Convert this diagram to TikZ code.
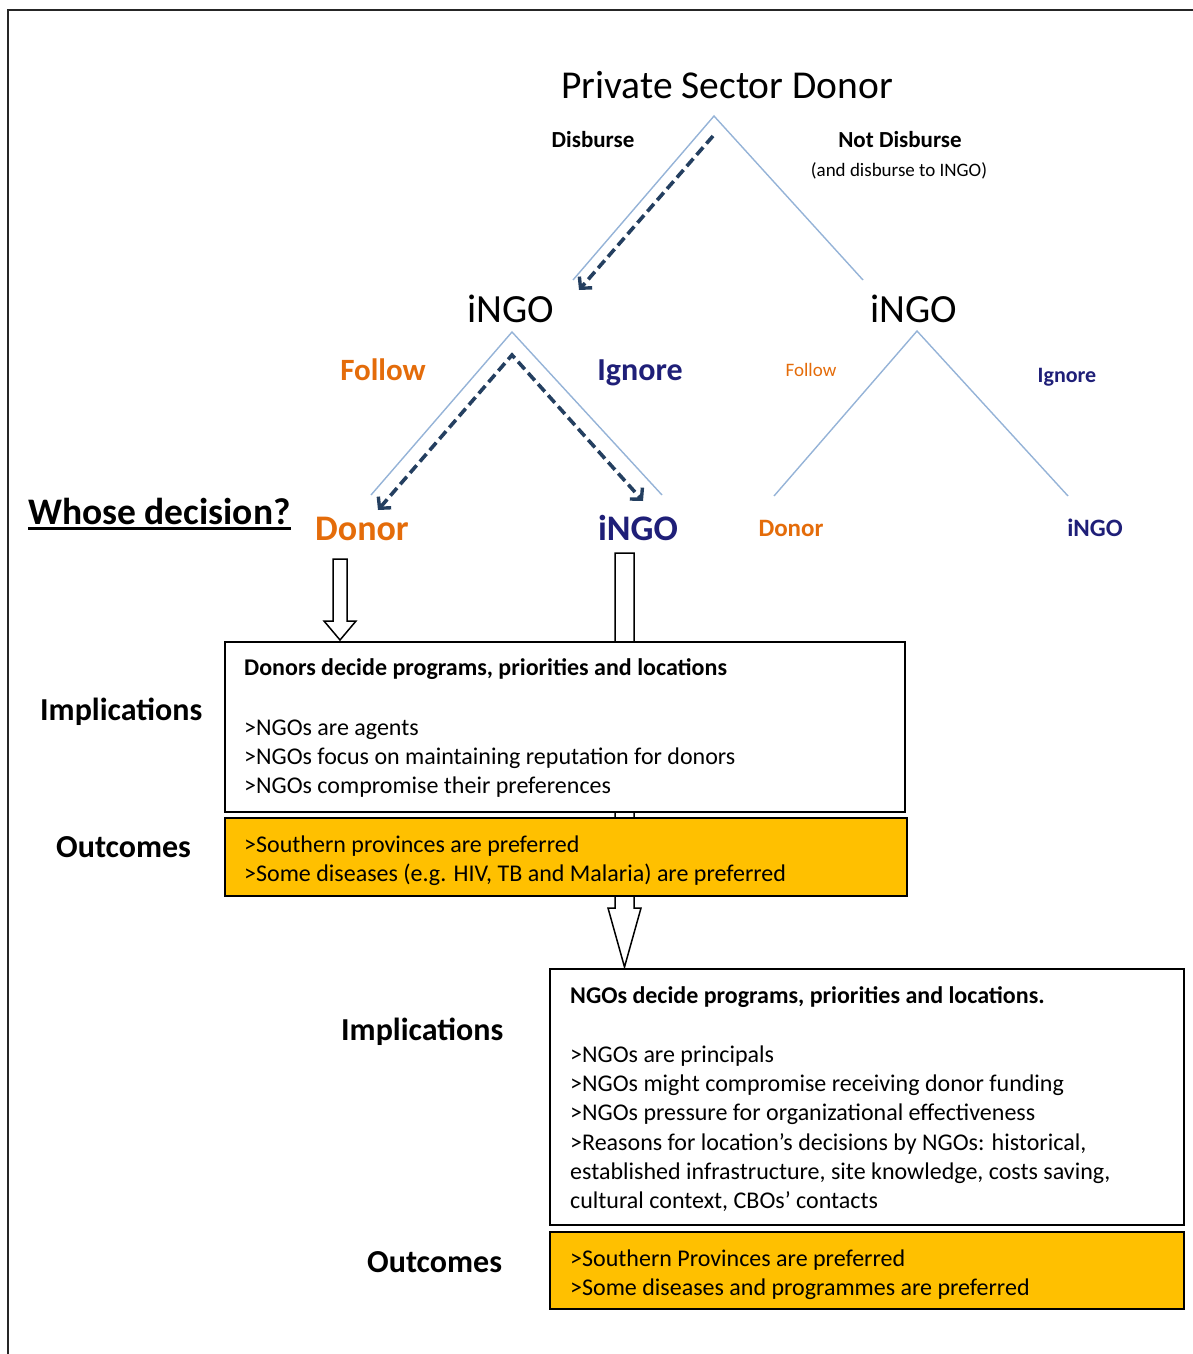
\documentclass[tikz,border=0pt]{standalone}
\usepackage{fontspec}
\setmainfont{Carlito}
\usetikzlibrary{arrows.meta}
\definecolor{branchblue}{HTML}{95B3D7}
\definecolor{routenavy}{HTML}{243F60}
\definecolor{followorange}{HTML}{E46C0A}
\definecolor{ignorenavy}{HTML}{1F1F78}
\definecolor{gold}{HTML}{FFC000}
\newcommand\fsz[1]{\fontsize{#1}{#1}\selectfont}
\begin{document}
\begin{tikzpicture}[x=1pt,y=-1pt,
  branch/.style={draw=branchblue, line width=1.4pt},
  route/.style={draw=routenavy, line width=3.6pt, dash pattern=on 10pt off 5pt,
    line cap=butt},
  barb/.tip={Straight Barb[length=8pt,width=17pt,line width=3.4pt]},
  lbl/.style={anchor=base, inner sep=0pt},
  txt/.style={anchor=base west, inner sep=0pt, font=\fsz{24}},
  side/.style={anchor=base west, inner sep=0pt, font=\fsz{32}\bfseries},
  whitebox/.style={draw=black, line width=1.6pt, fill=white, anchor=north west,
    inner sep=0pt},
  goldbox/.style={whitebox, fill=gold},
  blockarrow/.style={draw=black, line width=1.5pt, fill=white, line join=miter}]
\useasboundingbox (0,0) rectangle (1193,1354);
% page frame
\draw[line width=2.2pt, draw=black!85] (8,1400) -- (8,10) -- (1250,10);

% decision tree labels
\node[lbl, font=\fsz{39.5}] (psd) at (727,99) {Private Sector Donor};
\node[lbl, font=\fsz{23}\bfseries] (disb) at (593,147) {Disburse};
\node[lbl, font=\fsz{23}\bfseries] (ndisb) at (900,147) {Not Disburse};
\node[lbl, font=\fsz{19}] (ndisbnote) at (899,176) {(and disburse to INGO)};
\node[lbl, font=\fsz{40}] (ingoL) at (511,322) {iNGO};
\node[lbl, font=\fsz{40}] (ingoR) at (914,322) {iNGO};
\node[lbl, font=\fsz{31}\bfseries, text=followorange] (followL) at (383,380) {Follow};
\node[lbl, font=\fsz{32}\bfseries, text=ignorenavy] (ignoreL) at (640,380) {Ignore};
\node[lbl, font=\fsz{19}, text=followorange] (followR) at (811,376) {Follow};
\node[lbl, font=\fsz{22}\bfseries, text=ignorenavy] (ignoreR) at (1067,382) {Ignore};
\node[lbl, font=\fsz{36}\bfseries, text=followorange] (donorLL) at (362,540) {Donor};
\node[lbl, font=\fsz{36}\bfseries, text=ignorenavy] (ingoLR) at (638,540) {iNGO};
\node[lbl, font=\fsz{25}\bfseries, text=followorange] (donorRL) at (791,536) {Donor};
\node[lbl, font=\fsz{25}\bfseries, text=ignorenavy] (ingoRR) at (1095,536) {iNGO};

% branch end points
\coordinate (topApex) at (714,116);
\coordinate (topL) at (573,280);
\coordinate (topR) at (863,280);
\coordinate (midApex) at (512,332);
\coordinate (midL) at (371,495);
\coordinate (midR) at (662,495);
\coordinate (rgtApex) at (917,331);
\coordinate (rgtL) at (774,496);
\coordinate (rgtR) at (1068,496);
\draw[branch] (topL) -- (topApex) -- (topR);
\draw[branch] (midL) -- (midApex) -- (midR);
\draw[branch] (rgtL) -- (rgtApex) -- (rgtR);

% chosen route
\coordinate (rtStart) at (713,136);
\coordinate (rtEnd) at (579,290);
\coordinate (rtApex) at (512,355);
\coordinate (rtL) at (378,510);
\coordinate (rtR) at (643,501);
\draw[route, -barb] (rtStart) -- (rtEnd);
\draw[route, barb-barb] (rtL) -- (rtApex) -- (rtR);

% question label
\node[anchor=base west, inner sep=0pt, font=\fsz{37.5}\bfseries] (whose) at (28,524) {Whose decision?};
\draw[line width=2.2pt] (whose.south west) ++(0,4) -- ([yshift=-4pt]whose.south east);

% block arrows
\draw[blockarrow] (333,559) -- (347,559) -- (347,621) -- (356,621) -- (340,640)
  -- (324,621) -- (333,621) -- cycle;
\draw[blockarrow] (615,553) -- (634,553) -- (634,908) -- (641,908) -- (624.5,967)
  -- (608,908) -- (615,908) -- cycle;

% donor-led case
\node[whitebox, minimum width=680pt, minimum height=170pt] (impA) at (224,641) {};
\node[goldbox, minimum width=682pt, minimum height=78pt] (outA) at (224,817) {};
\node[txt, font=\fsz{24}\bfseries] (impA0) at (244,675) {Donors decide programs, priorities and locations};
\node[txt] (impA1) at (244,735) {>NGOs are agents};
\node[txt] (impA2) at (244,764) {>NGOs focus on maintaining reputation for donors};
\node[txt] (impA3) at (244,793) {>NGOs compromise their preferences};
\node[txt] (outA1) at (244,852) {>Southern provinces are preferred};
\node[txt] (outA2) at (244,881) {>Some diseases (e.g. HIV, TB and Malaria) are preferred};
\node[side] (impAlbl) at (40,720) {Implications};
\node[side] (outAlbl) at (56,857) {Outcomes};

% NGO-led case
\node[whitebox, minimum width=634pt, minimum height=256pt] (impB) at (549,968) {};
\node[goldbox, minimum width=634pt, minimum height=77pt] (outB) at (549,1231) {};
\node[txt, font=\fsz{24}\bfseries] (impB0) at (570,1003) {NGOs decide programs, priorities and locations.};
\node[txt] (impB1) at (570,1062) {>NGOs are principals};
\node[txt] (impB2) at (570,1091) {>NGOs might compromise receiving donor funding};
\node[txt] (impB3) at (570,1120) {>NGOs pressure for organizational effectiveness};
\node[txt] (impB4) at (570,1150) {>Reasons for location’s decisions by NGOs: historical,};
\node[txt] (impB5) at (570,1179) {established infrastructure, site knowledge, costs saving,};
\node[txt] (impB6) at (570,1208) {cultural context, CBOs’ contacts};
\node[txt] (outB1) at (570,1266) {>Southern Provinces are preferred};
\node[txt] (outB2) at (570,1295) {>Some diseases and programmes are preferred};
\node[side] (impBlbl) at (341,1040) {Implications};
\node[side] (outBlbl) at (367,1272) {Outcomes};
\end{tikzpicture}
\end{document}
